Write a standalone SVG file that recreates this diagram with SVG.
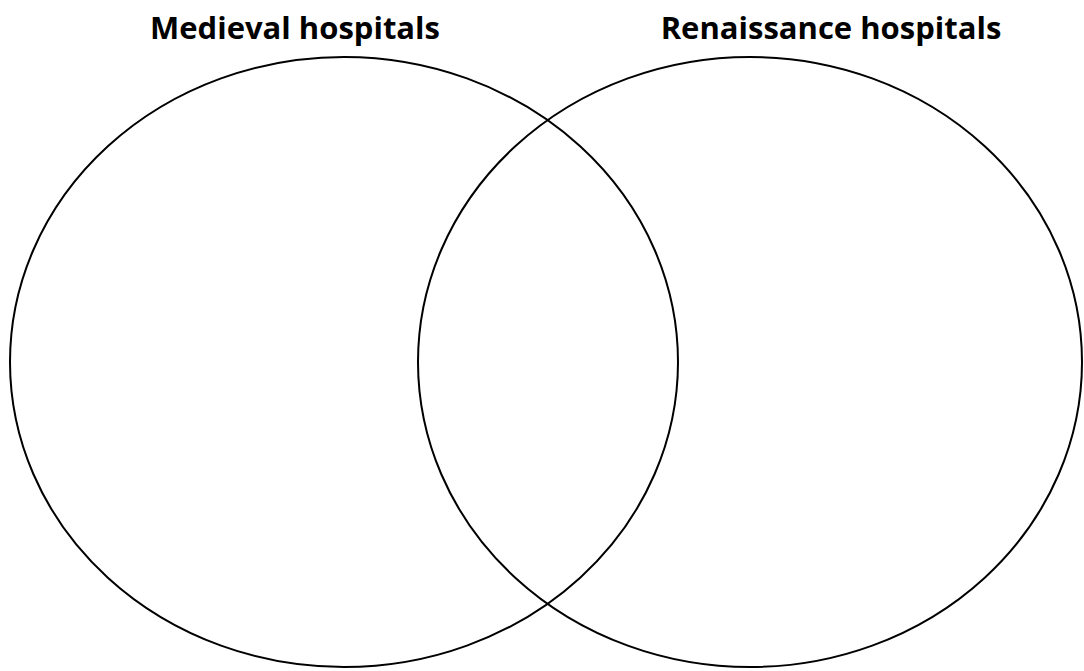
<svg xmlns="http://www.w3.org/2000/svg" width="1084" height="671" viewBox="0 0 1084 671">
<style>
.c{fill:none;stroke:#000;stroke-width:2}
.t{font-family:"Open Sans","Liberation Sans",sans-serif;font-weight:bold;font-size:31px;fill:#000;text-anchor:middle}
</style>
<rect width="1084" height="671" fill="#fff"/>
<g id="left">
<ellipse class="c" cx="344" cy="362" rx="334" ry="305"/>
<text class="t" x="295" y="39">Medieval hospitals</text>
</g>
<g id="right">
<ellipse class="c" cx="750" cy="362" rx="332" ry="305"/>
<text class="t" x="831" y="39">Renaissance hospitals</text>
</g>
<g id="connectors"/>
</svg>
